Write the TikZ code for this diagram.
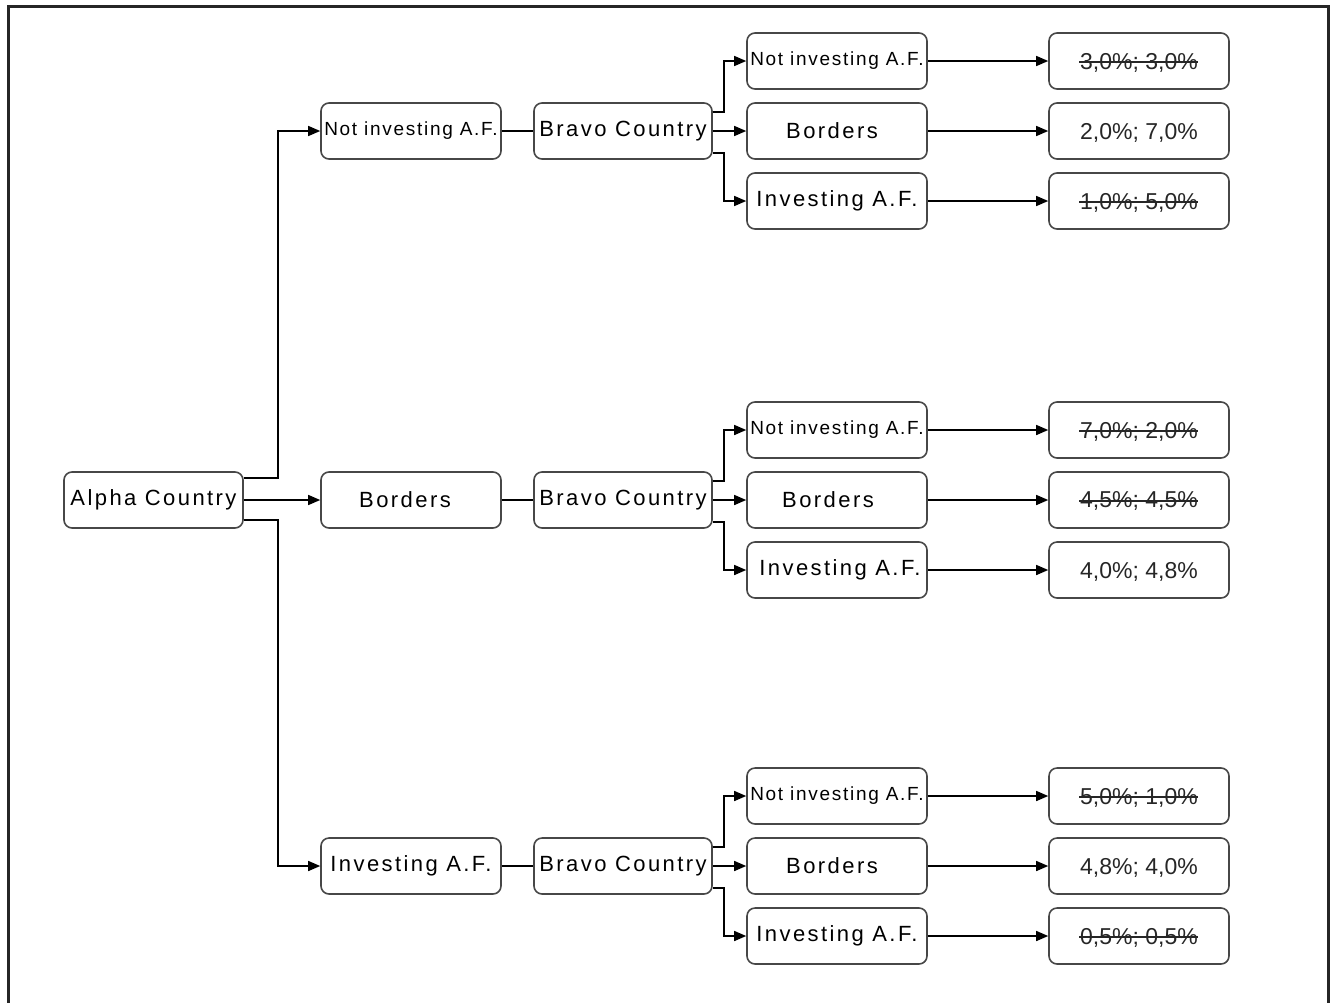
\documentclass[tikz,border=0pt]{standalone}
\usepackage{fontspec}
\setmainfont{Liberation Sans}
\newfontfamily\lsfam[LetterSpace=11]{Liberation Sans}
\newfontfamily\lsfamsmall[LetterSpace=9]{Liberation Sans}
\usetikzlibrary{arrows.meta,calc}
\tikzset{
  box/.style={draw=black!72, line width=1.6pt, rounded corners=8pt, minimum width=180pt, minimum height=56pt, inner sep=0pt, text=black, font=\lsfam\fontsize{22}{26}\selectfont},
  smallbox/.style={box, font=\lsfamsmall\fontsize{19}{23}\selectfont},
  paybox/.style={box, text=black!85, text depth=0pt, font=\fontsize{23}{27}\selectfont},
  conn/.style={line width=1.4pt, black},
  arr/.style={conn, -{Triangle[length=12pt,width=10pt]}},
  strike/.style={line width=1.4pt, black!85},
}
\begin{document}
\begin{tikzpicture}[x=1pt,y=-1pt]
\useasboundingbox (0,0) rectangle (1338,1002);
% frame
\draw[line width=3pt, black!85] (8,1010) -- (8,6.5) -- (1328,6.5) -- (1328,1010);

% root
\node[box, minimum width=179pt] (A) at (153.5,500) {Alpha Country};

% level 1
\node[smallbox] (L1a) at (411,131) {Not investing A.F.};
\node[box] (L1b) at (411,500) {Borders\hspace*{12pt}};
\node[box] (L1c) at (411,866) {Investing A.F.};

% Bravo
\node[box, minimum width=178pt] (Ba) at (623,131) {Bravo Country};
\node[box, minimum width=178pt] (Bb) at (623,500) {Bravo Country};
\node[box, minimum width=178pt] (Bc) at (623,866) {Bravo Country};

% level 3 - group a
\node[smallbox] (a1) at (837,61) {Not investing A.F.};
\node[box] (a2) at (837,131) {Borders\hspace*{10pt}};
\node[box] (a3) at (837,201) {Investing A.F.};
% group b
\node[smallbox] (b1) at (837,430) {Not investing A.F.};
\node[box] (b2) at (837,500) {Borders\hspace*{18pt}};
\node[box] (b3) at (837,570) {\hspace*{6pt}Investing A.F.};
% group c
\node[smallbox] (c1) at (837,796) {Not investing A.F.};
\node[box] (c2) at (837,866) {Borders\hspace*{10pt}};
\node[box] (c3) at (837,936) {Investing A.F.};

% payoffs
\node[paybox] (pa1) at (1139,61) {3,0\%; 3,0\%};
\node[paybox] (pa2) at (1139,131) {2,0\%; 7,0\%};
\node[paybox] (pa3) at (1139,201) {1,0\%; 5,0\%};
\node[paybox] (pb1) at (1139,430) {7,0\%; 2,0\%};
\node[paybox] (pb2) at (1139,500) {4,5\%; 4,5\%};
\node[paybox] (pb3) at (1139,570) {4,0\%; 4,8\%};
\node[paybox] (pc1) at (1139,796) {5,0\%; 1,0\%};
\node[paybox] (pc2) at (1139,866) {4,8\%; 4,0\%};
\node[paybox] (pc3) at (1139,936) {0,5\%; 0,5\%};

% strike-throughs
\foreach \p in {pa1,pa3,pb1,pb2,pc1,pc3}{
  \draw[strike] ([xshift=-60pt,yshift=-1pt]\p.center) -- ([xshift=59pt,yshift=-1pt]\p.center);
}

% connectors from root
\draw[arr] ([yshift=22pt]A.east) -- ++(34,0) |- (L1a.west);
\draw[arr] (A.east) -- (L1b.west);
\draw[arr] ([yshift=-20pt]A.east) -- ++(34,0) |- (L1c.west);

% level1 to Bravo
\draw[conn] (L1a.east) -- (Ba.west);
\draw[conn] (L1b.east) -- (Bb.west);
\draw[conn] (L1c.east) -- (Bc.west);

% Bravo to level 3
\foreach \B/\x in {Ba/a, Bb/b, Bc/c}{
  \draw[arr] ([yshift=19pt]\B.east) -- ++(11,0) |- (\x1.west);
  \draw[arr] (\B.east) -- (\x2.west);
  \draw[arr] ([yshift=-22pt]\B.east) -- ++(11,0) |- (\x3.west);
}

% level 3 to payoffs
\foreach \x in {a,b,c}{
  \foreach \i in {1,2,3}{
    \draw[arr] (\x\i.east) -- (p\x\i.west);
  }
}
\end{tikzpicture}
\end{document}
